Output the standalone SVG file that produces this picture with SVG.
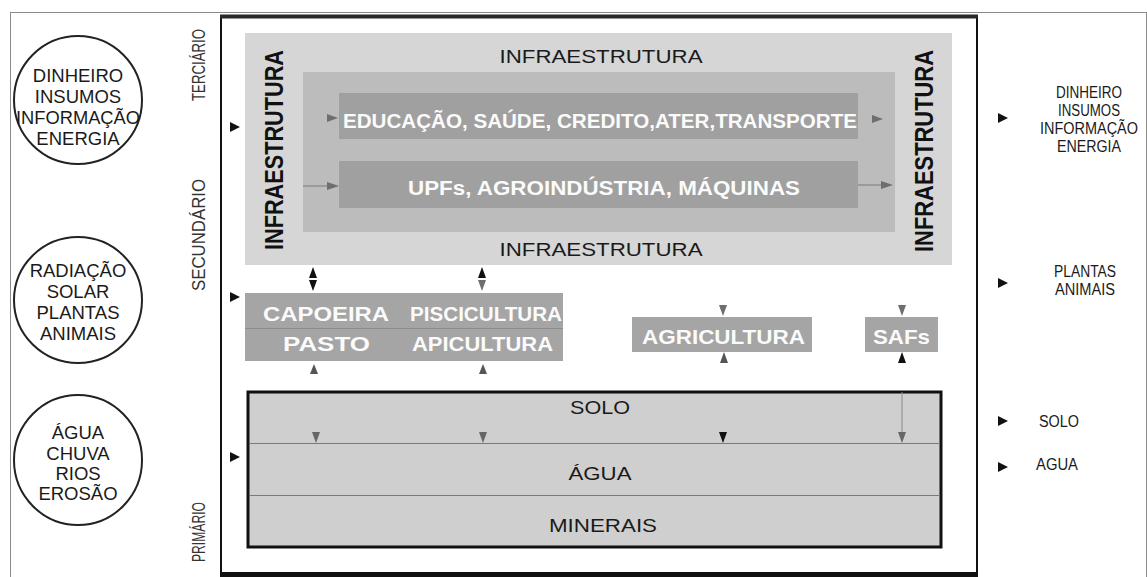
<svg xmlns="http://www.w3.org/2000/svg" width="1147" height="577" viewBox="0 0 1147 577">
<style>
.thin{font-family:"Liberation Sans",Arial,sans-serif;fill:#1a1a1a}
.bold{font-family:"Liberation Sans",Arial,sans-serif;font-weight:bold}
.w{fill:#fbfbfb}
.lvl{font-family:"Liberation Sans",Arial,sans-serif;font-size:18px;fill:#333}
.circ{fill:none;stroke:#222;stroke-width:2}
.ah{fill:#111}
.ag{fill:#6e6e6e}
</style>
<rect x="0" y="0" width="1147" height="577" fill="#fff"/>
<rect x="10.5" y="12.5" width="1136" height="570" fill="none" stroke="#8a8a8a" stroke-width="1"/>

<g id="main-frame">
<rect x="221" y="17" width="756" height="556" fill="#fff" stroke="#111" stroke-width="2"/>
<line x1="220" y1="16.5" x2="978" y2="16.5" stroke="#2a2a2a" stroke-width="4"/>
<line x1="220" y1="575" x2="978" y2="575" stroke="#111" stroke-width="5"/>
</g>

<g id="lado-esquerdo">
<g id="c1"><ellipse class="circ" cx="78" cy="100" rx="64" ry="64"/>
<text class="thin" font-size="18.5" text-anchor="middle"><tspan x="78" y="82">DINHEIRO</tspan><tspan x="78" y="103">INSUMOS</tspan><tspan x="78" y="124" textLength="124" lengthAdjust="spacingAndGlyphs">INFORMAÇÃO</tspan><tspan x="78" y="145">ENERGIA</tspan></text></g>
<g id="c2"><ellipse class="circ" cx="78" cy="300" rx="64" ry="63"/>
<text class="thin" font-size="18.5" text-anchor="middle"><tspan x="78" y="277">RADIAÇÃO</tspan><tspan x="78" y="298">SOLAR</tspan><tspan x="78" y="319">PLANTAS</tspan><tspan x="78" y="340">ANIMAIS</tspan></text></g>
<g id="c3"><ellipse class="circ" cx="78" cy="460" rx="64" ry="65"/>
<text class="thin" font-size="18.5" text-anchor="middle"><tspan x="78" y="439">ÁGUA</tspan><tspan x="78" y="460">CHUVA</tspan><tspan x="78" y="480">RIOS</tspan><tspan x="78" y="500">EROSÃO</tspan></text></g>
</g>

<g id="niveis">
<text class="lvl" transform="translate(205,65) rotate(-90)" text-anchor="middle" textLength="72" lengthAdjust="spacingAndGlyphs">TERCIÁRIO</text>
<text class="lvl" transform="translate(205,235) rotate(-90)" text-anchor="middle" textLength="112" lengthAdjust="spacingAndGlyphs">SECUNDÁRIO</text>
<text class="lvl" transform="translate(205,532) rotate(-90)" text-anchor="middle" textLength="60" lengthAdjust="spacingAndGlyphs">PRIMÁRIO</text>
</g>

<g id="infraestrutura">
<rect x="245" y="33" width="707" height="232" fill="#d6d6d6"/>
<text class="thin" font-size="17.5" x="601" y="63" text-anchor="middle" textLength="203" lengthAdjust="spacingAndGlyphs">INFRAESTRUTURA</text>
<text class="thin" font-size="17.5" x="601" y="256" text-anchor="middle" textLength="203" lengthAdjust="spacingAndGlyphs">INFRAESTRUTURA</text>
<text class="bold" font-size="26" fill="#111" transform="translate(283,150) rotate(-90)" text-anchor="middle" textLength="200" lengthAdjust="spacingAndGlyphs">INFRAESTRUTURA</text>
<text class="bold" font-size="26" fill="#111" transform="translate(933,151) rotate(-90)" text-anchor="middle" textLength="202" lengthAdjust="spacingAndGlyphs">INFRAESTRUTURA</text>
</g>
<g id="servicos-panel">
<rect x="303" y="72" width="592" height="160" fill="#bcbcbc"/>
</g>
<g id="educacao">
<rect x="339" y="93" width="519" height="46" fill="#a0a0a0"/>
<text class="bold w" font-size="20" x="343" y="128" textLength="514" lengthAdjust="spacingAndGlyphs">EDUCAÇÃO, SAÚDE, CREDITO,ATER,TRANSPORTE</text>
</g>
<g id="upfs">
<rect x="339" y="161" width="519" height="47" fill="#a0a0a0"/>
<text class="bold w" font-size="20" x="408" y="195" textLength="392" lengthAdjust="spacingAndGlyphs">UPFs, AGROINDÚSTRIA, MÁQUINAS</text>
</g>

<g id="capoeira-piscicultura">
<rect x="245" y="293" width="318" height="68" fill="#a5a5a5"/>
<line x1="245" y1="328.5" x2="563" y2="328.5" stroke="#8c8c8c" stroke-width="1"/>
<text class="bold w" font-size="21" x="263" y="321" textLength="126" lengthAdjust="spacingAndGlyphs">CAPOEIRA</text>
<text class="bold w" font-size="21" x="410" y="321" textLength="152" lengthAdjust="spacingAndGlyphs">PISCICULTURA</text>
<text class="bold w" font-size="21" x="283" y="351" textLength="87" lengthAdjust="spacingAndGlyphs">PASTO</text>
<text class="bold w" font-size="21" x="412" y="351" textLength="141" lengthAdjust="spacingAndGlyphs">APICULTURA</text>
</g>
<g id="agricultura">
<rect x="632" y="317" width="180" height="35" fill="#a5a5a5"/>
<text class="bold w" font-size="21" x="642" y="344" textLength="163" lengthAdjust="spacingAndGlyphs">AGRICULTURA</text>
</g>
<g id="safs">
<rect x="865" y="317" width="73" height="35" fill="#a5a5a5"/>
<text class="bold w" font-size="21" x="873" y="344" textLength="57" lengthAdjust="spacingAndGlyphs">SAFs</text>
</g>

<g id="solo-agua-minerais">
<rect x="248" y="392" width="693" height="155" fill="#cfcfcf" stroke="#111" stroke-width="3"/>
<line x1="250" y1="443.5" x2="940" y2="443.5" stroke="#7a7a7a" stroke-width="1"/>
<line x1="250" y1="495.5" x2="940" y2="495.5" stroke="#7a7a7a" stroke-width="1"/>
<text class="thin" font-size="18.5" x="600" y="414" text-anchor="middle" textLength="60" lengthAdjust="spacingAndGlyphs">SOLO</text>
<text class="thin" font-size="18.5" x="600" y="480" text-anchor="middle" textLength="63" lengthAdjust="spacingAndGlyphs">ÁGUA</text>
<text class="thin" font-size="18.5" x="603" y="532" text-anchor="middle" textLength="108" lengthAdjust="spacingAndGlyphs">MINERAIS</text>
</g>

<g id="lado-direito">
<text class="thin" font-size="16" text-anchor="middle" fill="#222"><tspan x="1089" y="98" textLength="66" lengthAdjust="spacingAndGlyphs">DINHEIRO</tspan><tspan x="1089" y="116" textLength="62" lengthAdjust="spacingAndGlyphs">INSUMOS</tspan><tspan x="1089" y="134" textLength="98" lengthAdjust="spacingAndGlyphs">INFORMAÇÃO</tspan><tspan x="1089" y="152" textLength="64" lengthAdjust="spacingAndGlyphs">ENERGIA</tspan></text>
<text class="thin" font-size="16" text-anchor="middle" fill="#333"><tspan x="1085" y="277" textLength="62" lengthAdjust="spacingAndGlyphs">PLANTAS</tspan><tspan x="1085" y="295" textLength="60" lengthAdjust="spacingAndGlyphs">ANIMAIS</tspan></text>
<text class="thin" font-size="16" x="1039" y="427" fill="#555" textLength="40" lengthAdjust="spacingAndGlyphs">SOLO</text>
<text class="thin" font-size="16" x="1036" y="470" fill="#555" textLength="42" lengthAdjust="spacingAndGlyphs">AGUA</text>
</g>

<g id="conectores">
<polygon class="ah" points="230,122 240,127 230,132"/>
<polygon class="ah" points="230,292 240,297 230,302"/>
<polygon class="ah" points="230,452 240,457 230,462"/>
<polygon class="ah" points="998,113 1008,118 998,123"/>
<polygon class="ah" points="998,278 1008,283 998,288"/>
<polygon class="ah" points="998,416 1008,421 998,426"/>
<polygon class="ah" points="998,462 1008,467 998,472"/>
<polygon class="ag" points="327,114 338,118 327,122"/>
<line x1="303" y1="186" x2="330" y2="186" stroke="#7a7a7a" stroke-width="1"/>
<polygon class="ag" points="327,182 339,186 327,190"/>
<polygon class="ag" points="872,115 883,119 872,123"/>
<line x1="858" y1="185" x2="884" y2="185" stroke="#7a7a7a" stroke-width="1"/>
<polygon class="ag" points="881,181 893,185 881,189"/>
<polygon class="ah" points="313,267 309,278 317,278"/>
<polygon class="ah" points="309,280 317,280 313,291"/>
<line x1="310" y1="279" x2="316" y2="279" stroke="#fff" stroke-width="1.5"/>
<polygon class="ah" points="482,267 478,278 486,278"/>
<polygon class="ag" points="478,280 486,280 482,291"/>
<polygon class="ag" points="719,305 727,305 723,316"/>
<polygon class="ag" points="898,305 906,305 902,316"/>
<polygon fill="#555" points="314,364 310,374 318,374"/>
<polygon fill="#555" points="483,364 479,374 487,374"/>
<polygon fill="#555" points="724,352 720,363 728,363"/>
<polygon class="ah" points="902,352 898,363 906,363"/>
<polygon fill="#666" points="312,432 320,432 316,443"/>
<polygon fill="#666" points="479,432 487,432 483,443"/>
<polygon class="ah" points="719,432 727,432 723,443"/>
<line x1="902" y1="392" x2="902" y2="434" stroke="#8a8a8a" stroke-width="1"/>
<polygon fill="#666" points="898,432 906,432 902,443"/>
</g>
</svg>
